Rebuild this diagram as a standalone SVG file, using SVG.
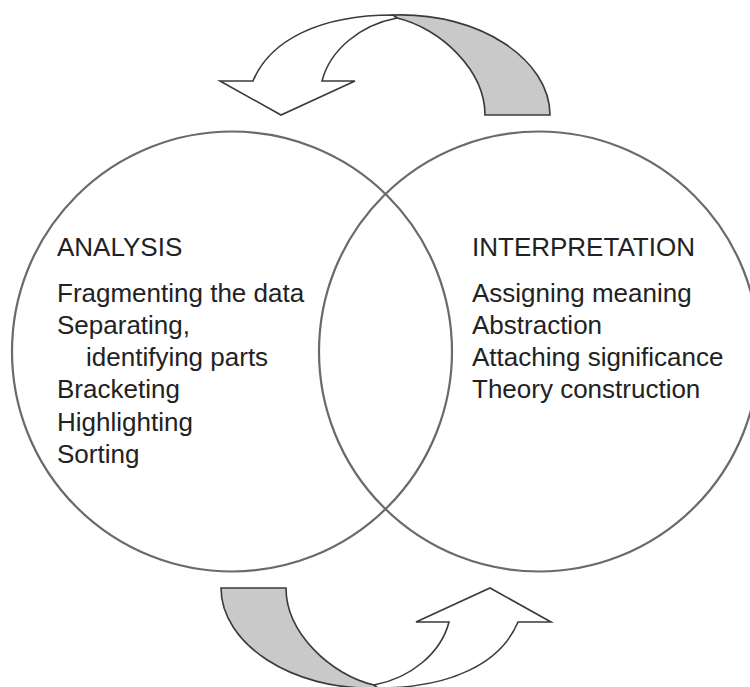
<svg xmlns="http://www.w3.org/2000/svg" width="750" height="687" viewBox="0 0 750 687">
  <style>
    .ring { fill: none; stroke: #6a6a6a; stroke-width: 2.2; }
    .band { stroke: #3a3a3a; stroke-width: 1.6; stroke-linejoin: miter; }
    .back { fill: #c9c9c9; }
    .front { fill: #ffffff; }
    .lbl { font-family: "Liberation Sans", Arial, Helvetica, sans-serif; font-size: 26px; fill: #222222; }
  </style>
  <defs>
    <!-- Twisted ribbon arrow: shaded back face on the right, white front face ending in a head -->
    <g id="cycleArrow">
      <path class="band back" d="M393,15 C480,12 550,60 550,115 L485,115 C485,70 440,28 397,18 Z"/>
      <path class="band front" d="M253,81 L220,81 L281,115 L355,81 L322,81 C330,50 360,25 397,18 L393,15 C320,15 270,40 253,81 Z"/>
    </g>
  </defs>
  <rect width="750" height="687" fill="#ffffff"/>

  <g id="connectors">
    <use id="arrow-top" href="#cycleArrow"/>
    <use id="arrow-bottom" href="#cycleArrow" transform="rotate(180 385.5 351.5)"/>
  </g>

  <g id="analysis">
    <circle class="ring" cx="232" cy="351.5" r="220"/>
    <text class="lbl" x="57" y="256">ANALYSIS</text>
    <text class="lbl" x="57" y="302">Fragmenting the data</text>
    <text class="lbl" x="57" y="334">Separating,</text>
    <text class="lbl" x="86" y="366">identifying parts</text>
    <text class="lbl" x="57" y="398">Bracketing</text>
    <text class="lbl" x="57" y="431">Highlighting</text>
    <text class="lbl" x="57" y="463">Sorting</text>
  </g>

  <g id="interpretation">
    <circle class="ring" cx="539" cy="351.5" r="220"/>
    <text class="lbl" x="472" y="256">INTERPRETATION</text>
    <text class="lbl" x="472" y="302">Assigning meaning</text>
    <text class="lbl" x="472" y="334">Abstraction</text>
    <text class="lbl" x="472" y="366">Attaching significance</text>
    <text class="lbl" x="472" y="398">Theory construction</text>
  </g>
</svg>
